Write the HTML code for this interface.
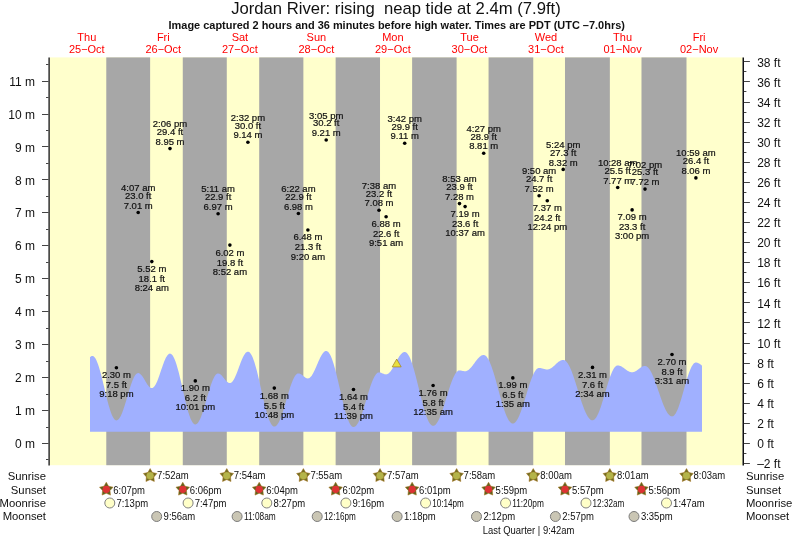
<!DOCTYPE html><html><head><meta charset="utf-8"><title>Jordan River tide chart</title><style>
html,body{margin:0;padding:0;background:#fff;width:793px;height:539px;overflow:hidden}
svg{display:block;will-change:transform}
text{font-family:"Liberation Sans",Arial,Helvetica,sans-serif;fill:#111}
.t{font-size:9.5px;stroke:#111;stroke-width:0.2px}.ax{font-size:12px}.dl{font-size:11px;fill:#f00}.rl{font-size:11.3px}.tm{font-size:10px}
</style></head><body>
<svg width="793" height="539" viewBox="0 0 793 539">
<rect x="49.6" y="57.4" width="692.8" height="407.8" fill="#ffffcc"/>
<rect x="106.28" y="57.4" width="43.85" height="407.8" fill="#a7a7a7"/>
<rect x="182.77" y="57.4" width="44.01" height="407.8" fill="#a7a7a7"/>
<rect x="259.20" y="57.4" width="44.17" height="407.8" fill="#a7a7a7"/>
<rect x="335.63" y="57.4" width="44.38" height="407.8" fill="#a7a7a7"/>
<rect x="412.12" y="57.4" width="44.49" height="407.8" fill="#a7a7a7"/>
<rect x="488.56" y="57.4" width="44.70" height="407.8" fill="#a7a7a7"/>
<rect x="564.99" y="57.4" width="44.86" height="407.8" fill="#a7a7a7"/>
<rect x="641.48" y="57.4" width="45.02" height="407.8" fill="#a7a7a7"/>
<path d="M90.0,431.8 L90.00,357.34 L90.50,356.80 L91.00,356.39 L91.50,356.11 L92.00,355.96 L92.50,355.93 L93.00,356.04 L93.50,356.28 L94.00,356.67 L94.50,357.18 L95.00,357.83 L95.50,358.61 L96.00,359.51 L96.50,360.53 L97.00,361.67 L97.50,362.93 L98.00,364.29 L98.50,365.75 L99.00,367.31 L99.50,368.96 L100.00,370.69 L100.50,372.49 L101.00,374.36 L101.50,376.29 L102.00,378.27 L102.50,380.29 L103.00,382.34 L103.50,384.42 L104.00,386.52 L104.50,388.62 L105.00,390.72 L105.50,392.81 L106.00,394.88 L106.50,396.92 L107.00,398.93 L107.50,400.88 L108.00,402.79 L108.50,404.63 L109.00,406.40 L109.50,408.10 L110.00,409.71 L110.50,411.22 L111.00,412.64 L111.50,413.96 L112.00,415.16 L112.50,416.25 L113.00,417.23 L113.50,418.07 L114.00,418.79 L114.50,419.38 L115.00,419.84 L115.50,420.16 L116.00,420.35 L116.50,420.40 L117.00,420.32 L117.50,420.12 L118.00,419.79 L118.50,419.35 L119.00,418.79 L119.50,418.11 L120.00,417.32 L120.50,416.43 L121.00,415.43 L121.50,414.33 L122.00,413.14 L122.50,411.87 L123.00,410.52 L123.50,409.09 L124.00,407.60 L124.50,406.06 L125.00,404.47 L125.50,402.83 L126.00,401.17 L126.50,399.48 L127.00,397.77 L127.50,396.06 L128.00,394.36 L128.50,392.67 L129.00,391.00 L129.50,389.36 L130.00,387.75 L130.50,386.20 L131.00,384.70 L131.50,383.26 L132.00,381.89 L132.50,380.60 L133.00,379.40 L133.50,378.28 L134.00,377.26 L134.50,376.35 L135.00,375.54 L135.50,374.84 L136.00,374.25 L136.50,373.78 L137.00,373.43 L137.50,373.21 L138.00,373.10 L138.50,373.12 L139.00,373.23 L139.50,373.44 L140.00,373.75 L140.50,374.15 L141.00,374.63 L141.50,375.19 L142.00,375.82 L142.50,376.51 L143.00,377.26 L143.50,378.05 L144.00,378.87 L144.50,379.72 L145.00,380.58 L145.50,381.44 L146.00,382.29 L146.50,383.11 L147.00,383.90 L147.50,384.65 L148.00,385.34 L148.50,385.97 L149.00,386.53 L149.50,387.01 L150.00,387.41 L150.50,387.71 L151.00,387.93 L151.50,388.04 L152.00,388.05 L152.50,387.95 L153.00,387.71 L153.50,387.35 L154.00,386.86 L154.50,386.26 L155.00,385.54 L155.50,384.71 L156.00,383.78 L156.50,382.75 L157.00,381.63 L157.50,380.43 L158.00,379.16 L158.50,377.83 L159.00,376.45 L159.50,375.02 L160.00,373.56 L160.50,372.08 L161.00,370.60 L161.50,369.11 L162.00,367.64 L162.50,366.19 L163.00,364.78 L163.50,363.41 L164.00,362.09 L164.50,360.85 L165.00,359.67 L165.50,358.58 L166.00,357.58 L166.50,356.68 L167.00,355.89 L167.50,355.21 L168.00,354.64 L168.50,354.20 L169.00,353.87 L169.50,353.68 L170.00,353.61 L170.50,353.68 L171.00,353.88 L171.50,354.22 L172.00,354.70 L172.50,355.30 L173.00,356.04 L173.50,356.90 L174.00,357.89 L174.50,359.00 L175.00,360.23 L175.50,361.56 L176.00,363.00 L176.50,364.55 L177.00,366.19 L177.50,367.91 L178.00,369.72 L178.50,371.60 L179.00,373.55 L179.50,375.56 L180.00,377.63 L180.50,379.73 L181.00,381.87 L181.50,384.04 L182.00,386.23 L182.50,388.43 L183.00,390.63 L183.50,392.83 L184.00,395.01 L184.50,397.17 L185.00,399.29 L185.50,401.38 L186.00,403.42 L186.50,405.40 L187.00,407.32 L187.50,409.17 L188.00,410.94 L188.50,412.63 L189.00,414.22 L189.50,415.72 L190.00,417.11 L190.50,418.40 L191.00,419.57 L191.50,420.62 L192.00,421.55 L192.50,422.36 L193.00,423.03 L193.50,423.58 L194.00,423.99 L194.50,424.26 L195.00,424.40 L195.50,424.40 L196.00,424.29 L196.50,424.05 L197.00,423.69 L197.50,423.22 L198.00,422.63 L198.50,421.93 L199.00,421.12 L199.50,420.21 L200.00,419.20 L200.50,418.09 L201.00,416.89 L201.50,415.60 L202.00,414.24 L202.50,412.81 L203.00,411.31 L203.50,409.75 L204.00,408.14 L204.50,406.49 L205.00,404.80 L205.50,403.08 L206.00,401.35 L206.50,399.60 L207.00,397.85 L207.50,396.11 L208.00,394.38 L208.50,392.67 L209.00,390.99 L209.50,389.35 L210.00,387.75 L210.50,386.21 L211.00,384.73 L211.50,383.31 L212.00,381.97 L212.50,380.71 L213.00,379.53 L213.50,378.45 L214.00,377.46 L214.50,376.57 L215.00,375.79 L215.50,375.12 L216.00,374.56 L216.50,374.12 L217.00,373.80 L217.50,373.59 L218.00,373.50 L218.50,373.52 L219.00,373.63 L219.50,373.82 L220.00,374.09 L220.50,374.44 L221.00,374.85 L221.50,375.33 L222.00,375.85 L222.50,376.42 L223.00,377.03 L223.50,377.65 L224.00,378.29 L224.50,378.92 L225.00,379.55 L225.50,380.15 L226.00,380.72 L226.50,381.24 L227.00,381.71 L227.50,382.12 L228.00,382.46 L228.50,382.73 L229.00,382.91 L229.50,383.02 L230.00,383.04 L230.50,382.94 L231.00,382.73 L231.50,382.41 L232.00,381.97 L232.50,381.42 L233.00,380.76 L233.50,380.01 L234.00,379.15 L234.50,378.21 L235.00,377.19 L235.50,376.09 L236.00,374.93 L236.50,373.71 L237.00,372.44 L237.50,371.14 L238.00,369.80 L238.50,368.45 L239.00,367.09 L239.50,365.73 L240.00,364.38 L240.50,363.06 L241.00,361.77 L241.50,360.52 L242.00,359.32 L242.50,358.19 L243.00,357.12 L243.50,356.13 L244.00,355.22 L244.50,354.41 L245.00,353.70 L245.50,353.08 L246.00,352.58 L246.50,352.19 L247.00,351.91 L247.50,351.75 L248.00,351.71 L248.50,351.79 L249.00,352.01 L249.50,352.36 L250.00,352.84 L250.50,353.45 L251.00,354.18 L251.50,355.04 L252.00,356.02 L252.50,357.12 L253.00,358.33 L253.50,359.65 L254.00,361.08 L254.50,362.61 L255.00,364.23 L255.50,365.94 L256.00,367.73 L256.50,369.59 L257.00,371.53 L257.50,373.53 L258.00,375.59 L258.50,377.69 L259.00,379.83 L259.50,382.01 L260.00,384.21 L260.50,386.43 L261.00,388.66 L261.50,390.89 L262.00,393.12 L262.50,395.33 L263.00,397.52 L263.50,399.68 L264.00,401.80 L264.50,403.88 L265.00,405.90 L265.50,407.87 L266.00,409.77 L266.50,411.59 L267.00,413.34 L267.50,415.00 L268.00,416.57 L268.50,418.04 L269.00,419.41 L269.50,420.68 L270.00,421.83 L270.50,422.86 L271.00,423.78 L271.50,424.57 L272.00,425.23 L272.50,425.77 L273.00,426.18 L273.50,426.46 L274.00,426.60 L274.50,426.62 L275.00,426.52 L275.50,426.30 L276.00,425.97 L276.50,425.54 L277.00,424.99 L277.50,424.34 L278.00,423.59 L278.50,422.74 L279.00,421.79 L279.50,420.75 L280.00,419.62 L280.50,418.41 L281.00,417.12 L281.50,415.75 L282.00,414.32 L282.50,412.84 L283.00,411.29 L283.50,409.70 L284.00,408.07 L284.50,406.40 L285.00,404.70 L285.50,402.99 L286.00,401.26 L286.50,399.53 L287.00,397.80 L287.50,396.08 L288.00,394.38 L288.50,392.70 L289.00,391.05 L289.50,389.44 L290.00,387.87 L290.50,386.36 L291.00,384.90 L291.50,383.51 L292.00,382.18 L292.50,380.94 L293.00,379.77 L293.50,378.69 L294.00,377.70 L294.50,376.80 L295.00,376.00 L295.50,375.31 L296.00,374.72 L296.50,374.23 L297.00,373.86 L297.50,373.59 L298.00,373.44 L298.50,373.40 L299.00,373.44 L299.50,373.56 L300.00,373.73 L300.50,373.97 L301.00,374.26 L301.50,374.60 L302.00,374.97 L302.50,375.37 L303.00,375.78 L303.50,376.19 L304.00,376.60 L304.50,376.99 L305.00,377.35 L305.50,377.67 L306.00,377.94 L306.50,378.16 L307.00,378.31 L307.50,378.40 L308.00,378.42 L308.50,378.35 L309.00,378.17 L309.50,377.90 L310.00,377.53 L310.50,377.07 L311.00,376.52 L311.50,375.88 L312.00,375.16 L312.50,374.36 L313.00,373.49 L313.50,372.56 L314.00,371.57 L314.50,370.53 L315.00,369.44 L315.50,368.33 L316.00,367.18 L316.50,366.02 L317.00,364.85 L317.50,363.67 L318.00,362.51 L318.50,361.36 L319.00,360.23 L319.50,359.14 L320.00,358.09 L320.50,357.09 L321.00,356.14 L321.50,355.26 L322.00,354.44 L322.50,353.70 L323.00,353.04 L323.50,352.47 L324.00,351.99 L324.50,351.60 L325.00,351.30 L325.50,351.11 L326.00,351.01 L326.50,351.02 L327.00,351.15 L327.50,351.41 L328.00,351.79 L328.50,352.29 L329.00,352.92 L329.50,353.66 L330.00,354.53 L330.50,355.50 L331.00,356.59 L331.50,357.78 L332.00,359.08 L332.50,360.47 L333.00,361.96 L333.50,363.54 L334.00,365.21 L334.50,366.95 L335.00,368.76 L335.50,370.64 L336.00,372.59 L336.50,374.58 L337.00,376.63 L337.50,378.71 L338.00,380.83 L338.50,382.98 L339.00,385.15 L339.50,387.33 L340.00,389.51 L340.50,391.69 L341.00,393.87 L341.50,396.03 L342.00,398.16 L342.50,400.27 L343.00,402.34 L343.50,404.36 L344.00,406.33 L344.50,408.25 L345.00,410.10 L345.50,411.88 L346.00,413.59 L346.50,415.22 L347.00,416.76 L347.50,418.20 L348.00,419.56 L348.50,420.81 L349.00,421.95 L349.50,422.99 L350.00,423.91 L350.50,424.72 L351.00,425.41 L351.50,425.98 L352.00,426.43 L352.50,426.75 L353.00,426.95 L353.50,427.03 L354.00,426.99 L354.50,426.84 L355.00,426.59 L355.50,426.24 L356.00,425.79 L356.50,425.24 L357.00,424.59 L357.50,423.84 L358.00,423.01 L358.50,422.08 L359.00,421.08 L359.50,419.98 L360.00,418.82 L360.50,417.58 L361.00,416.27 L361.50,414.90 L362.00,413.47 L362.50,411.99 L363.00,410.46 L363.50,408.89 L364.00,407.29 L364.50,405.65 L365.00,404.00 L365.50,402.33 L366.00,400.65 L366.50,398.96 L367.00,397.28 L367.50,395.61 L368.00,393.95 L368.50,392.31 L369.00,390.71 L369.50,389.13 L370.00,387.60 L370.50,386.11 L371.00,384.68 L371.50,383.30 L372.00,381.99 L372.50,380.74 L373.00,379.56 L373.50,378.46 L374.00,377.45 L374.50,376.51 L375.00,375.67 L375.50,374.91 L376.00,374.25 L376.50,373.69 L377.00,373.23 L377.50,372.87 L378.00,372.61 L378.50,372.45 L379.00,372.39 L379.50,372.42 L380.00,372.49 L380.50,372.61 L381.00,372.76 L381.50,372.95 L382.00,373.16 L382.50,373.38 L383.00,373.60 L383.50,373.81 L384.00,374.00 L384.50,374.17 L385.00,374.29 L385.50,374.37 L386.00,374.40 L386.50,374.37 L387.00,374.27 L387.50,374.08 L388.00,373.82 L388.50,373.48 L389.00,373.07 L389.50,372.59 L390.00,372.05 L390.50,371.44 L391.00,370.77 L391.50,370.05 L392.00,369.28 L392.50,368.47 L393.00,367.62 L393.50,366.74 L394.00,365.83 L394.50,364.91 L395.00,363.97 L395.50,363.03 L396.00,362.09 L396.50,361.15 L397.00,360.23 L397.50,359.34 L398.00,358.47 L398.50,357.63 L399.00,356.83 L399.50,356.08 L400.00,355.38 L400.50,354.73 L401.00,354.15 L401.50,353.63 L402.00,353.17 L402.50,352.79 L403.00,352.48 L403.50,352.25 L404.00,352.09 L404.50,352.02 L405.00,352.02 L405.50,352.14 L406.00,352.37 L406.50,352.71 L407.00,353.17 L407.50,353.73 L408.00,354.40 L408.50,355.18 L409.00,356.06 L409.50,357.04 L410.00,358.12 L410.50,359.30 L411.00,360.56 L411.50,361.92 L412.00,363.35 L412.50,364.87 L413.00,366.46 L413.50,368.12 L414.00,369.84 L414.50,371.62 L415.00,373.45 L415.50,375.33 L416.00,377.25 L416.50,379.21 L417.00,381.20 L417.50,383.21 L418.00,385.24 L418.50,387.28 L419.00,389.33 L419.50,391.37 L420.00,393.41 L420.50,395.43 L421.00,397.44 L421.50,399.41 L422.00,401.36 L422.50,403.27 L423.00,405.13 L423.50,406.94 L424.00,408.70 L424.50,410.39 L425.00,412.02 L425.50,413.58 L426.00,415.07 L426.50,416.47 L427.00,417.79 L427.50,419.02 L428.00,420.16 L428.50,421.20 L429.00,422.14 L429.50,422.98 L430.00,423.71 L430.50,424.34 L431.00,424.86 L431.50,425.27 L432.00,425.57 L432.50,425.75 L433.00,425.82 L433.50,425.79 L434.00,425.65 L434.50,425.42 L435.00,425.10 L435.50,424.67 L436.00,424.16 L436.50,423.55 L437.00,422.85 L437.50,422.07 L438.00,421.20 L438.50,420.25 L439.00,419.23 L439.50,418.12 L440.00,416.95 L440.50,415.71 L441.00,414.41 L441.50,413.05 L442.00,411.64 L442.50,410.19 L443.00,408.68 L443.50,407.15 L444.00,405.58 L444.50,403.98 L445.00,402.36 L445.50,400.73 L446.00,399.09 L446.50,397.45 L447.00,395.80 L447.50,394.17 L448.00,392.55 L448.50,390.95 L449.00,389.37 L449.50,387.83 L450.00,386.32 L450.50,384.85 L451.00,383.43 L451.50,382.06 L452.00,380.75 L452.50,379.50 L453.00,378.31 L453.50,377.20 L454.00,376.15 L454.50,375.19 L455.00,374.30 L455.50,373.50 L456.00,372.79 L456.50,372.16 L457.00,371.63 L457.50,371.19 L458.00,370.84 L458.50,370.59 L459.00,370.44 L459.50,370.39 L460.00,370.40 L460.50,370.45 L461.00,370.53 L461.50,370.64 L462.00,370.76 L462.50,370.89 L463.00,371.01 L463.50,371.12 L464.00,371.21 L464.50,371.27 L465.00,371.29 L465.50,371.27 L466.00,371.19 L466.50,371.05 L467.00,370.86 L467.50,370.61 L468.00,370.31 L468.50,369.96 L469.00,369.56 L469.50,369.11 L470.00,368.62 L470.50,368.09 L471.00,367.53 L471.50,366.94 L472.00,366.32 L472.50,365.67 L473.00,365.01 L473.50,364.34 L474.00,363.66 L474.50,362.97 L475.00,362.28 L475.50,361.60 L476.00,360.94 L476.50,360.28 L477.00,359.65 L477.50,359.05 L478.00,358.47 L478.50,357.92 L479.00,357.42 L479.50,356.95 L480.00,356.53 L480.50,356.16 L481.00,355.83 L481.50,355.56 L482.00,355.34 L482.50,355.18 L483.00,355.07 L483.50,355.02 L484.00,355.04 L484.50,355.16 L485.00,355.37 L485.50,355.69 L486.00,356.10 L486.50,356.61 L487.00,357.21 L487.50,357.91 L488.00,358.69 L488.50,359.57 L489.00,360.53 L489.50,361.58 L490.00,362.70 L490.50,363.91 L491.00,365.19 L491.50,366.53 L492.00,367.95 L492.50,369.42 L493.00,370.96 L493.50,372.54 L494.00,374.18 L494.50,375.86 L495.00,377.57 L495.50,379.33 L496.00,381.11 L496.50,382.91 L497.00,384.74 L497.50,386.57 L498.00,388.42 L498.50,390.26 L499.00,392.11 L499.50,393.94 L500.00,395.76 L500.50,397.57 L501.00,399.35 L501.50,401.10 L502.00,402.81 L502.50,404.49 L503.00,406.12 L503.50,407.70 L504.00,409.23 L504.50,410.70 L505.00,412.11 L505.50,413.45 L506.00,414.72 L506.50,415.92 L507.00,417.04 L507.50,418.08 L508.00,419.04 L508.50,419.91 L509.00,420.69 L509.50,421.37 L510.00,421.97 L510.50,422.47 L511.00,422.87 L511.50,423.18 L512.00,423.39 L512.50,423.50 L513.00,423.51 L513.50,423.42 L514.00,423.23 L514.50,422.94 L515.00,422.56 L515.50,422.08 L516.00,421.50 L516.50,420.84 L517.00,420.09 L517.50,419.24 L518.00,418.32 L518.50,417.32 L519.00,416.23 L519.50,415.08 L520.00,413.85 L520.50,412.57 L521.00,411.22 L521.50,409.81 L522.00,408.36 L522.50,406.86 L523.00,405.32 L523.50,403.75 L524.00,402.15 L524.50,400.53 L525.00,398.89 L525.50,397.24 L526.00,395.58 L526.50,393.92 L527.00,392.27 L527.50,390.63 L528.00,389.01 L528.50,387.42 L529.00,385.85 L529.50,384.32 L530.00,382.83 L530.50,381.39 L531.00,380.00 L531.50,378.66 L532.00,377.38 L532.50,376.17 L533.00,375.03 L533.50,373.97 L534.00,372.98 L534.50,372.07 L535.00,371.25 L535.50,370.51 L536.00,369.86 L536.50,369.31 L537.00,368.85 L537.50,368.48 L538.00,368.22 L538.50,368.05 L539.00,367.98 L539.50,367.98 L540.00,368.02 L540.50,368.08 L541.00,368.17 L541.50,368.27 L542.00,368.39 L542.50,368.53 L543.00,368.67 L543.50,368.82 L544.00,368.96 L544.50,369.09 L545.00,369.21 L545.50,369.31 L546.00,369.39 L546.50,369.45 L547.00,369.48 L547.50,369.48 L548.00,369.44 L548.50,369.35 L549.00,369.21 L549.50,369.04 L550.00,368.82 L550.50,368.56 L551.00,368.26 L551.50,367.93 L552.00,367.57 L552.50,367.18 L553.00,366.77 L553.50,366.34 L554.00,365.89 L554.50,365.43 L555.00,364.96 L555.50,364.49 L556.00,364.02 L556.50,363.56 L557.00,363.11 L557.50,362.68 L558.00,362.26 L558.50,361.87 L559.00,361.51 L559.50,361.18 L560.00,360.88 L560.50,360.62 L561.00,360.40 L561.50,360.22 L562.00,360.08 L562.50,359.99 L563.00,359.95 L563.50,359.95 L564.00,360.04 L564.50,360.22 L565.00,360.48 L565.50,360.83 L566.00,361.26 L566.50,361.78 L567.00,362.38 L567.50,363.05 L568.00,363.81 L568.50,364.64 L569.00,365.55 L569.50,366.52 L570.00,367.57 L570.50,368.68 L571.00,369.85 L571.50,371.08 L572.00,372.36 L572.50,373.70 L573.00,375.08 L573.50,376.51 L574.00,377.98 L574.50,379.48 L575.00,381.01 L575.50,382.57 L576.00,384.15 L576.50,385.74 L577.00,387.35 L577.50,388.97 L578.00,390.59 L578.50,392.21 L579.00,393.83 L579.50,395.43 L580.00,397.02 L580.50,398.59 L581.00,400.13 L581.50,401.64 L582.00,403.13 L582.50,404.57 L583.00,405.97 L583.50,407.33 L584.00,408.64 L584.50,409.89 L585.00,411.08 L585.50,412.22 L586.00,413.29 L586.50,414.30 L587.00,415.23 L587.50,416.10 L588.00,416.88 L588.50,417.59 L589.00,418.22 L589.50,418.77 L590.00,419.24 L590.50,419.63 L591.00,419.92 L591.50,420.14 L592.00,420.26 L592.50,420.30 L593.00,420.24 L593.50,420.08 L594.00,419.80 L594.50,419.43 L595.00,418.95 L595.50,418.37 L596.00,417.69 L596.50,416.91 L597.00,416.04 L597.50,415.08 L598.00,414.04 L598.50,412.91 L599.00,411.71 L599.50,410.43 L600.00,409.08 L600.50,407.67 L601.00,406.20 L601.50,404.68 L602.00,403.12 L602.50,401.51 L603.00,399.88 L603.50,398.21 L604.00,396.52 L604.50,394.82 L605.00,393.12 L605.50,391.41 L606.00,389.71 L606.50,388.01 L607.00,386.34 L607.50,384.70 L608.00,383.08 L608.50,381.51 L609.00,379.97 L609.50,378.49 L610.00,377.07 L610.50,375.70 L611.00,374.40 L611.50,373.18 L612.00,372.03 L612.50,370.96 L613.00,369.98 L613.50,369.08 L614.00,368.28 L614.50,367.57 L615.00,366.97 L615.50,366.46 L616.00,366.05 L616.50,365.75 L617.00,365.56 L617.50,365.47 L618.00,365.47 L618.50,365.52 L619.00,365.61 L619.50,365.73 L620.00,365.89 L620.50,366.09 L621.00,366.32 L621.50,366.58 L622.00,366.87 L622.50,367.18 L623.00,367.51 L623.50,367.86 L624.00,368.22 L624.50,368.59 L625.00,368.96 L625.50,369.33 L626.00,369.69 L626.50,370.05 L627.00,370.39 L627.50,370.71 L628.00,371.01 L628.50,371.29 L629.00,371.54 L629.50,371.75 L630.00,371.94 L630.50,372.08 L631.00,372.19 L631.50,372.26 L632.00,372.29 L632.50,372.28 L633.00,372.22 L633.50,372.12 L634.00,371.97 L634.50,371.78 L635.00,371.54 L635.50,371.28 L636.00,370.98 L636.50,370.65 L637.00,370.30 L637.50,369.94 L638.00,369.56 L638.50,369.17 L639.00,368.79 L639.50,368.41 L640.00,368.04 L640.50,367.68 L641.00,367.35 L641.50,367.05 L642.00,366.77 L642.50,366.53 L643.00,366.33 L643.50,366.17 L644.00,366.06 L644.50,365.99 L645.00,365.97 L645.50,366.01 L646.00,366.14 L646.50,366.35 L647.00,366.65 L647.50,367.03 L648.00,367.49 L648.50,368.04 L649.00,368.65 L649.50,369.35 L650.00,370.12 L650.50,370.96 L651.00,371.87 L651.50,372.84 L652.00,373.87 L652.50,374.97 L653.00,376.11 L653.50,377.31 L654.00,378.56 L654.50,379.85 L655.00,381.17 L655.50,382.53 L656.00,383.92 L656.50,385.33 L657.00,386.77 L657.50,388.21 L658.00,389.67 L658.50,391.13 L659.00,392.60 L659.50,394.05 L660.00,395.50 L660.50,396.94 L661.00,398.35 L661.50,399.74 L662.00,401.10 L662.50,402.43 L663.00,403.72 L663.50,404.97 L664.00,406.17 L664.50,407.32 L665.00,408.42 L665.50,409.45 L666.00,410.43 L666.50,411.34 L667.00,412.19 L667.50,412.96 L668.00,413.66 L668.50,414.28 L669.00,414.83 L669.50,415.29 L670.00,415.68 L670.50,415.98 L671.00,416.20 L671.50,416.33 L672.00,416.38 L672.50,416.33 L673.00,416.17 L673.50,415.89 L674.00,415.49 L674.50,414.98 L675.00,414.36 L675.50,413.63 L676.00,412.80 L676.50,411.86 L677.00,410.83 L677.50,409.70 L678.00,408.49 L678.50,407.19 L679.00,405.82 L679.50,404.37 L680.00,402.86 L680.50,401.29 L681.00,399.67 L681.50,398.01 L682.00,396.31 L682.50,394.58 L683.00,392.83 L683.50,391.06 L684.00,389.28 L684.50,387.51 L685.00,385.74 L685.50,384.00 L686.00,382.27 L686.50,380.58 L687.00,378.92 L687.50,377.31 L688.00,375.76 L688.50,374.26 L689.00,372.83 L689.50,371.47 L690.00,370.19 L690.50,368.99 L691.00,367.89 L691.50,366.87 L692.00,365.96 L692.50,365.15 L693.00,364.44 L693.50,363.84 L694.00,363.35 L694.50,362.98 L695.00,362.72 L695.50,362.58 L696.00,362.55 L696.50,362.59 L697.00,362.67 L697.50,362.80 L698.00,362.97 L698.50,363.18 L699.00,363.44 L699.50,363.73 L700.00,364.07 L700.50,364.43 L701.00,364.84 L701.50,365.27 L702.00,365.73 L702.0,431.8 Z" fill="#a0b0ff"/>
<g stroke="#111" stroke-width="1.4" fill="none">
<line x1="49.1" y1="57.4" x2="49.1" y2="465.4" stroke-width="1.3"/>
<line x1="743.25" y1="57.4" x2="743.25" y2="465.4" stroke-width="1.5"/>
</g>
<path d="M46.0,459.50H48.6 M42.0,443.50H48.6 M46.0,427.50H48.6 M42.0,410.50H48.6 M46.0,394.50H48.6 M42.0,377.50H48.6 M46.0,361.50H48.6 M42.0,344.50H48.6 M46.0,328.50H48.6 M42.0,311.50H48.6 M46.0,295.50H48.6 M42.0,278.50H48.6 M46.0,262.50H48.6 M42.0,245.50H48.6 M46.0,229.50H48.6 M42.0,212.50H48.6 M46.0,196.50H48.6 M42.0,179.50H48.6 M46.0,163.50H48.6 M42.0,146.50H48.6 M46.0,130.50H48.6 M42.0,114.50H48.6 M46.0,97.50H48.6 M42.0,81.50H48.6 M46.0,64.50H48.6 M743.8,463.50H749.9 M743.8,453.50H746.4 M743.8,443.50H749.9 M743.8,433.50H746.4 M743.8,423.50H749.9 M743.8,413.50H746.4 M743.8,403.50H749.9 M743.8,393.50H746.4 M743.8,383.50H749.9 M743.8,373.50H746.4 M743.8,363.50H749.9 M743.8,353.50H746.4 M743.8,343.50H749.9 M743.8,333.50H746.4 M743.8,322.50H749.9 M743.8,312.50H746.4 M743.8,302.50H749.9 M743.8,292.50H746.4 M743.8,282.50H749.9 M743.8,272.50H746.4 M743.8,262.50H749.9 M743.8,252.50H746.4 M743.8,242.50H749.9 M743.8,232.50H746.4 M743.8,222.50H749.9 M743.8,212.50H746.4 M743.8,202.50H749.9 M743.8,192.50H746.4 M743.8,182.50H749.9 M743.8,172.50H746.4 M743.8,162.50H749.9 M743.8,152.50H746.4 M743.8,142.50H749.9 M743.8,132.50H746.4 M743.8,122.50H749.9 M743.8,112.50H746.4 M743.8,102.50H749.9 M743.8,91.50H746.4 M743.8,81.50H749.9 M743.8,71.50H746.4 M743.8,61.50H749.9" stroke="#444" stroke-width="1" fill="none"/>
<text class="ax" x="35" y="448.1" text-anchor="end">0 m</text>
<text class="ax" x="35" y="415.2" text-anchor="end">1 m</text>
<text class="ax" x="35" y="382.2" text-anchor="end">2 m</text>
<text class="ax" x="35" y="349.2" text-anchor="end">3 m</text>
<text class="ax" x="35" y="316.3" text-anchor="end">4 m</text>
<text class="ax" x="35" y="283.4" text-anchor="end">5 m</text>
<text class="ax" x="35" y="250.4" text-anchor="end">6 m</text>
<text class="ax" x="35" y="217.4" text-anchor="end">7 m</text>
<text class="ax" x="35" y="184.5" text-anchor="end">8 m</text>
<text class="ax" x="35" y="151.5" text-anchor="end">9 m</text>
<text class="ax" x="35" y="118.6" text-anchor="end">10 m</text>
<text class="ax" x="35" y="85.6" text-anchor="end">11 m</text>
<text class="ax" x="757.2" y="468.2">–2 ft</text>
<text class="ax" x="757.2" y="448.1">0 ft</text>
<text class="ax" x="757.2" y="428.0">2 ft</text>
<text class="ax" x="757.2" y="407.9">4 ft</text>
<text class="ax" x="757.2" y="387.8">6 ft</text>
<text class="ax" x="757.2" y="367.8">8 ft</text>
<text class="ax" x="757.2" y="347.7">10 ft</text>
<text class="ax" x="757.2" y="327.6">12 ft</text>
<text class="ax" x="757.2" y="307.5">14 ft</text>
<text class="ax" x="757.2" y="287.4">16 ft</text>
<text class="ax" x="757.2" y="267.3">18 ft</text>
<text class="ax" x="757.2" y="247.2">20 ft</text>
<text class="ax" x="757.2" y="227.2">22 ft</text>
<text class="ax" x="757.2" y="207.1">24 ft</text>
<text class="ax" x="757.2" y="187.0">26 ft</text>
<text class="ax" x="757.2" y="166.9">28 ft</text>
<text class="ax" x="757.2" y="146.8">30 ft</text>
<text class="ax" x="757.2" y="126.7">32 ft</text>
<text class="ax" x="757.2" y="106.6">34 ft</text>
<text class="ax" x="757.2" y="86.5">36 ft</text>
<text class="ax" x="757.2" y="66.5">38 ft</text>
<text x="396" y="14.4" text-anchor="middle" style="font-size:17px" textLength="329.6" lengthAdjust="spacingAndGlyphs" xml:space="preserve">Jordan River: rising  neap tide at 2.4m (7.9ft)</text>
<text x="396.7" y="28.8" text-anchor="middle" style="font-size:11px;font-weight:bold;fill:#111" textLength="456.4" lengthAdjust="spacingAndGlyphs">Image captured 2 hours and 36 minutes before high water. Times are PDT (UTC –7.0hrs)</text>
<text class="dl" x="86.8" y="41.1" text-anchor="middle">Thu</text>
<text class="dl" x="86.8" y="52.8" text-anchor="middle">25−Oct</text>
<text class="dl" x="163.3" y="41.1" text-anchor="middle">Fri</text>
<text class="dl" x="163.3" y="52.8" text-anchor="middle">26−Oct</text>
<text class="dl" x="239.9" y="41.1" text-anchor="middle">Sat</text>
<text class="dl" x="239.9" y="52.8" text-anchor="middle">27−Oct</text>
<text class="dl" x="316.4" y="41.1" text-anchor="middle">Sun</text>
<text class="dl" x="316.4" y="52.8" text-anchor="middle">28−Oct</text>
<text class="dl" x="392.9" y="41.1" text-anchor="middle">Mon</text>
<text class="dl" x="392.9" y="52.8" text-anchor="middle">29−Oct</text>
<text class="dl" x="469.5" y="41.1" text-anchor="middle">Tue</text>
<text class="dl" x="469.5" y="52.8" text-anchor="middle">30−Oct</text>
<text class="dl" x="546.0" y="41.1" text-anchor="middle">Wed</text>
<text class="dl" x="546.0" y="52.8" text-anchor="middle">31−Oct</text>
<text class="dl" x="622.6" y="41.1" text-anchor="middle">Thu</text>
<text class="dl" x="622.6" y="52.8" text-anchor="middle">01−Nov</text>
<text class="dl" x="699.1" y="41.1" text-anchor="middle">Fri</text>
<text class="dl" x="699.1" y="52.8" text-anchor="middle">02−Nov</text>
<circle cx="116.4" cy="367.7" r="1.8" fill="#000"/>
<text class="t" x="116.4" y="378.1" text-anchor="middle">2.30 m</text>
<text class="t" x="116.4" y="388.1" text-anchor="middle">7.5 ft</text>
<text class="t" x="116.4" y="397.2" text-anchor="middle">9:18 pm</text>
<circle cx="138.2" cy="212.5" r="1.8" fill="#000"/>
<text class="t" x="138.2" y="191.0" text-anchor="middle">4:07 am</text>
<text class="t" x="138.2" y="198.8" text-anchor="middle">23.0 ft</text>
<text class="t" x="138.2" y="208.6" text-anchor="middle">7.01 m</text>
<circle cx="151.8" cy="261.6" r="1.8" fill="#000"/>
<text class="t" x="151.8" y="272.0" text-anchor="middle">5.52 m</text>
<text class="t" x="151.8" y="282.0" text-anchor="middle">18.1 ft</text>
<text class="t" x="151.8" y="291.1" text-anchor="middle">8:24 am</text>
<circle cx="170.0" cy="148.6" r="1.8" fill="#000"/>
<text class="t" x="170.0" y="127.1" text-anchor="middle">2:06 pm</text>
<text class="t" x="170.0" y="134.9" text-anchor="middle">29.4 ft</text>
<text class="t" x="170.0" y="144.7" text-anchor="middle">8.95 m</text>
<circle cx="195.3" cy="380.9" r="1.8" fill="#000"/>
<text class="t" x="195.3" y="391.3" text-anchor="middle">1.90 m</text>
<text class="t" x="195.3" y="401.3" text-anchor="middle">6.2 ft</text>
<text class="t" x="195.3" y="410.4" text-anchor="middle">10:01 pm</text>
<circle cx="218.1" cy="213.8" r="1.8" fill="#000"/>
<text class="t" x="218.1" y="192.3" text-anchor="middle">5:11 am</text>
<text class="t" x="218.1" y="200.1" text-anchor="middle">22.9 ft</text>
<text class="t" x="218.1" y="209.9" text-anchor="middle">6.97 m</text>
<circle cx="229.9" cy="245.1" r="1.8" fill="#000"/>
<text class="t" x="229.9" y="255.5" text-anchor="middle">6.02 m</text>
<text class="t" x="229.9" y="265.5" text-anchor="middle">19.8 ft</text>
<text class="t" x="229.9" y="274.6" text-anchor="middle">8:52 am</text>
<circle cx="247.9" cy="142.3" r="1.8" fill="#000"/>
<text class="t" x="247.9" y="120.8" text-anchor="middle">2:32 pm</text>
<text class="t" x="247.9" y="128.6" text-anchor="middle">30.0 ft</text>
<text class="t" x="247.9" y="138.4" text-anchor="middle">9.14 m</text>
<circle cx="274.3" cy="388.1" r="1.8" fill="#000"/>
<text class="t" x="274.3" y="398.5" text-anchor="middle">1.68 m</text>
<text class="t" x="274.3" y="408.5" text-anchor="middle">5.5 ft</text>
<text class="t" x="274.3" y="417.6" text-anchor="middle">10:48 pm</text>
<circle cx="298.4" cy="213.5" r="1.8" fill="#000"/>
<text class="t" x="298.4" y="192.0" text-anchor="middle">6:22 am</text>
<text class="t" x="298.4" y="199.8" text-anchor="middle">22.9 ft</text>
<text class="t" x="298.4" y="209.6" text-anchor="middle">6.98 m</text>
<circle cx="307.9" cy="230.0" r="1.8" fill="#000"/>
<text class="t" x="307.9" y="240.4" text-anchor="middle">6.48 m</text>
<text class="t" x="307.9" y="250.4" text-anchor="middle">21.3 ft</text>
<text class="t" x="307.9" y="259.5" text-anchor="middle">9:20 am</text>
<circle cx="326.2" cy="140.0" r="1.8" fill="#000"/>
<text class="t" x="326.2" y="118.5" text-anchor="middle">3:05 pm</text>
<text class="t" x="326.2" y="126.3" text-anchor="middle">30.2 ft</text>
<text class="t" x="326.2" y="136.1" text-anchor="middle">9.21 m</text>
<circle cx="353.5" cy="389.5" r="1.8" fill="#000"/>
<text class="t" x="353.5" y="399.9" text-anchor="middle">1.64 m</text>
<text class="t" x="353.5" y="409.9" text-anchor="middle">5.4 ft</text>
<text class="t" x="353.5" y="419.0" text-anchor="middle">11:39 pm</text>
<circle cx="379.0" cy="210.2" r="1.8" fill="#000"/>
<text class="t" x="379.0" y="188.7" text-anchor="middle">7:38 am</text>
<text class="t" x="379.0" y="196.5" text-anchor="middle">23.2 ft</text>
<text class="t" x="379.0" y="206.3" text-anchor="middle">7.08 m</text>
<circle cx="386.1" cy="216.8" r="1.8" fill="#000"/>
<text class="t" x="386.1" y="227.2" text-anchor="middle">6.88 m</text>
<text class="t" x="386.1" y="237.2" text-anchor="middle">22.6 ft</text>
<text class="t" x="386.1" y="246.3" text-anchor="middle">9:51 am</text>
<circle cx="404.7" cy="143.3" r="1.8" fill="#000"/>
<text class="t" x="404.7" y="121.8" text-anchor="middle">3:42 pm</text>
<text class="t" x="404.7" y="129.6" text-anchor="middle">29.9 ft</text>
<text class="t" x="404.7" y="139.4" text-anchor="middle">9.11 m</text>
<circle cx="433.1" cy="385.5" r="1.8" fill="#000"/>
<text class="t" x="433.1" y="395.9" text-anchor="middle">1.76 m</text>
<text class="t" x="433.1" y="405.9" text-anchor="middle">5.8 ft</text>
<text class="t" x="433.1" y="415.0" text-anchor="middle">12:35 am</text>
<circle cx="459.5" cy="203.6" r="1.8" fill="#000"/>
<text class="t" x="459.5" y="182.1" text-anchor="middle">8:53 am</text>
<text class="t" x="459.5" y="189.9" text-anchor="middle">23.9 ft</text>
<text class="t" x="459.5" y="199.7" text-anchor="middle">7.28 m</text>
<circle cx="465.1" cy="206.6" r="1.8" fill="#000"/>
<text class="t" x="465.1" y="217.0" text-anchor="middle">7.19 m</text>
<text class="t" x="465.1" y="227.0" text-anchor="middle">23.6 ft</text>
<text class="t" x="465.1" y="236.1" text-anchor="middle">10:37 am</text>
<circle cx="483.7" cy="153.2" r="1.8" fill="#000"/>
<text class="t" x="483.7" y="131.7" text-anchor="middle">4:27 pm</text>
<text class="t" x="483.7" y="139.5" text-anchor="middle">28.9 ft</text>
<text class="t" x="483.7" y="149.3" text-anchor="middle">8.81 m</text>
<circle cx="512.8" cy="377.9" r="1.8" fill="#000"/>
<text class="t" x="512.8" y="388.3" text-anchor="middle">1.99 m</text>
<text class="t" x="512.8" y="398.3" text-anchor="middle">6.5 ft</text>
<text class="t" x="512.8" y="407.4" text-anchor="middle">1:35 am</text>
<circle cx="539.1" cy="195.7" r="1.8" fill="#000"/>
<text class="t" x="539.1" y="174.2" text-anchor="middle">9:50 am</text>
<text class="t" x="539.1" y="182.0" text-anchor="middle">24.7 ft</text>
<text class="t" x="539.1" y="191.8" text-anchor="middle">7.52 m</text>
<circle cx="547.3" cy="200.7" r="1.8" fill="#000"/>
<text class="t" x="547.3" y="211.1" text-anchor="middle">7.37 m</text>
<text class="t" x="547.3" y="221.1" text-anchor="middle">24.2 ft</text>
<text class="t" x="547.3" y="230.2" text-anchor="middle">12:24 pm</text>
<circle cx="563.2" cy="169.4" r="1.8" fill="#000"/>
<text class="t" x="563.2" y="147.9" text-anchor="middle">5:24 pm</text>
<text class="t" x="563.2" y="155.7" text-anchor="middle">27.3 ft</text>
<text class="t" x="563.2" y="165.5" text-anchor="middle">8.32 m</text>
<circle cx="592.5" cy="367.4" r="1.8" fill="#000"/>
<text class="t" x="592.5" y="377.8" text-anchor="middle">2.31 m</text>
<text class="t" x="592.5" y="387.8" text-anchor="middle">7.6 ft</text>
<text class="t" x="592.5" y="396.9" text-anchor="middle">2:34 am</text>
<circle cx="617.7" cy="187.5" r="1.8" fill="#000"/>
<text class="t" x="617.7" y="166.0" text-anchor="middle">10:28 am</text>
<text class="t" x="617.7" y="173.8" text-anchor="middle">25.5 ft</text>
<text class="t" x="617.7" y="183.6" text-anchor="middle">7.77 m</text>
<circle cx="632.1" cy="209.9" r="1.8" fill="#000"/>
<text class="t" x="632.1" y="220.3" text-anchor="middle">7.09 m</text>
<text class="t" x="632.1" y="230.3" text-anchor="middle">23.3 ft</text>
<text class="t" x="632.1" y="239.4" text-anchor="middle">3:00 pm</text>
<circle cx="645.0" cy="189.1" r="1.8" fill="#000"/>
<text class="t" x="645.0" y="167.6" text-anchor="middle">7:02 pm</text>
<text class="t" x="645.0" y="175.4" text-anchor="middle">25.3 ft</text>
<text class="t" x="645.0" y="185.2" text-anchor="middle">7.72 m</text>
<circle cx="672.0" cy="354.5" r="1.8" fill="#000"/>
<text class="t" x="672.0" y="364.9" text-anchor="middle">2.70 m</text>
<text class="t" x="672.0" y="374.9" text-anchor="middle">8.9 ft</text>
<text class="t" x="672.0" y="384.0" text-anchor="middle">3:31 am</text>
<circle cx="695.9" cy="177.9" r="1.8" fill="#000"/>
<text class="t" x="695.9" y="156.4" text-anchor="middle">10:59 am</text>
<text class="t" x="695.9" y="164.2" text-anchor="middle">26.4 ft</text>
<text class="t" x="695.9" y="174.0" text-anchor="middle">8.06 m</text>
<path d="M396.7,359.1 L401.2,366.9 L392.2,366.9 Z" fill="#e8e040" stroke="#a08020" stroke-width="0.7"/>
<text class="rl" x="46" y="480.1" text-anchor="end">Sunrise</text>
<text class="rl" x="745.9" y="480.1">Sunrise</text>
<text class="rl" x="46" y="493.9" text-anchor="end">Sunset</text>
<text class="rl" x="745.9" y="493.9">Sunset</text>
<text class="rl" x="46" y="506.6" text-anchor="end">Moonrise</text>
<text class="rl" x="745.9" y="506.6">Moonrise</text>
<text class="rl" x="46" y="520.4" text-anchor="end">Moonset</text>
<text class="rl" x="745.9" y="520.4">Moonset</text>
<polygon points="150.13,468.60 152.42,472.54 156.88,473.51 153.84,476.91 154.30,481.44 150.13,479.60 145.96,481.44 146.42,476.91 143.38,473.51 147.84,472.54" fill="#6a6e26" stroke="#a87018" stroke-width="0.55" stroke-linejoin="miter"/>
<circle cx="150.13" cy="475.70" r="3.8" fill="#b4b44a" stroke="#a06a18" stroke-width="0.6" stroke-dasharray="1 0.8"/>
<text class="tm" x="157.1" y="479.2" textLength="31.7" lengthAdjust="spacingAndGlyphs">7:52am</text>
<polygon points="226.78,468.60 229.07,472.54 233.53,473.51 230.49,476.91 230.95,481.44 226.78,479.60 222.60,481.44 223.07,476.91 220.02,473.51 224.48,472.54" fill="#6a6e26" stroke="#a87018" stroke-width="0.55" stroke-linejoin="miter"/>
<circle cx="226.78" cy="475.70" r="3.8" fill="#b4b44a" stroke="#a06a18" stroke-width="0.6" stroke-dasharray="1 0.8"/>
<text class="tm" x="233.8" y="479.2" textLength="31.7" lengthAdjust="spacingAndGlyphs">7:54am</text>
<polygon points="303.37,468.60 305.66,472.54 310.12,473.51 307.08,476.91 307.54,481.44 303.37,479.60 299.20,481.44 299.66,476.91 296.62,473.51 301.08,472.54" fill="#6a6e26" stroke="#a87018" stroke-width="0.55" stroke-linejoin="miter"/>
<circle cx="303.37" cy="475.70" r="3.8" fill="#b4b44a" stroke="#a06a18" stroke-width="0.6" stroke-dasharray="1 0.8"/>
<text class="tm" x="310.4" y="479.2" textLength="31.7" lengthAdjust="spacingAndGlyphs">7:55am</text>
<polygon points="380.02,468.60 382.31,472.54 386.77,473.51 383.73,476.91 384.19,481.44 380.02,479.60 375.84,481.44 376.31,476.91 373.26,473.51 377.72,472.54" fill="#6a6e26" stroke="#a87018" stroke-width="0.55" stroke-linejoin="miter"/>
<circle cx="380.02" cy="475.70" r="3.8" fill="#b4b44a" stroke="#a06a18" stroke-width="0.6" stroke-dasharray="1 0.8"/>
<text class="tm" x="387.0" y="479.2" textLength="31.7" lengthAdjust="spacingAndGlyphs">7:57am</text>
<polygon points="456.61,468.60 458.90,472.54 463.36,473.51 460.32,476.91 460.78,481.44 456.61,479.60 452.44,481.44 452.90,476.91 449.86,473.51 454.32,472.54" fill="#6a6e26" stroke="#a87018" stroke-width="0.55" stroke-linejoin="miter"/>
<circle cx="456.61" cy="475.70" r="3.8" fill="#b4b44a" stroke="#a06a18" stroke-width="0.6" stroke-dasharray="1 0.8"/>
<text class="tm" x="463.6" y="479.2" textLength="31.7" lengthAdjust="spacingAndGlyphs">7:58am</text>
<polygon points="533.26,468.60 535.55,472.54 540.01,473.51 536.97,476.91 537.43,481.44 533.26,479.60 529.09,481.44 529.55,476.91 526.51,473.51 530.97,472.54" fill="#6a6e26" stroke="#a87018" stroke-width="0.55" stroke-linejoin="miter"/>
<circle cx="533.26" cy="475.70" r="3.8" fill="#b4b44a" stroke="#a06a18" stroke-width="0.6" stroke-dasharray="1 0.8"/>
<text class="tm" x="540.3" y="479.2" textLength="31.7" lengthAdjust="spacingAndGlyphs">8:00am</text>
<polygon points="609.85,468.60 612.14,472.54 616.60,473.51 613.56,476.91 614.03,481.44 609.85,479.60 605.68,481.44 606.14,476.91 603.10,473.51 607.56,472.54" fill="#6a6e26" stroke="#a87018" stroke-width="0.55" stroke-linejoin="miter"/>
<circle cx="609.85" cy="475.70" r="3.8" fill="#b4b44a" stroke="#a06a18" stroke-width="0.6" stroke-dasharray="1 0.8"/>
<text class="tm" x="616.9" y="479.2" textLength="31.7" lengthAdjust="spacingAndGlyphs">8:01am</text>
<polygon points="686.50,468.60 688.79,472.54 693.25,473.51 690.21,476.91 690.67,481.44 686.50,479.60 682.33,481.44 682.79,476.91 679.75,473.51 684.21,472.54" fill="#6a6e26" stroke="#a87018" stroke-width="0.55" stroke-linejoin="miter"/>
<circle cx="686.50" cy="475.70" r="3.8" fill="#b4b44a" stroke="#a06a18" stroke-width="0.6" stroke-dasharray="1 0.8"/>
<text class="tm" x="693.5" y="479.2" textLength="31.7" lengthAdjust="spacingAndGlyphs">8:03am</text>
<polygon points="106.28,482.25 108.57,486.19 113.03,487.16 109.99,490.56 110.45,495.09 106.28,493.25 102.10,495.09 102.57,490.56 99.53,487.16 103.99,486.19" fill="#5a6420" stroke="#a87018" stroke-width="0.55" stroke-linejoin="miter"/>
<circle cx="106.28" cy="489.35" r="3.7" fill="#dd3333"/>
<text class="tm" x="113.3" y="493.8" textLength="31.7" lengthAdjust="spacingAndGlyphs">6:07pm</text>
<polygon points="182.77,482.25 185.06,486.19 189.52,487.16 186.47,490.56 186.94,495.09 182.77,493.25 178.59,495.09 179.06,490.56 176.01,487.16 180.47,486.19" fill="#5a6420" stroke="#a87018" stroke-width="0.55" stroke-linejoin="miter"/>
<circle cx="182.77" cy="489.35" r="3.7" fill="#dd3333"/>
<text class="tm" x="189.8" y="493.8" textLength="31.7" lengthAdjust="spacingAndGlyphs">6:06pm</text>
<polygon points="259.20,482.25 261.49,486.19 265.95,487.16 262.91,490.56 263.37,495.09 259.20,493.25 255.03,495.09 255.49,490.56 252.45,487.16 256.91,486.19" fill="#5a6420" stroke="#a87018" stroke-width="0.55" stroke-linejoin="miter"/>
<circle cx="259.20" cy="489.35" r="3.7" fill="#dd3333"/>
<text class="tm" x="266.2" y="493.8" textLength="31.7" lengthAdjust="spacingAndGlyphs">6:04pm</text>
<polygon points="335.63,482.25 337.93,486.19 342.39,487.16 339.34,490.56 339.81,495.09 335.63,493.25 331.46,495.09 331.93,490.56 328.88,487.16 333.34,486.19" fill="#5a6420" stroke="#a87018" stroke-width="0.55" stroke-linejoin="miter"/>
<circle cx="335.63" cy="489.35" r="3.7" fill="#dd3333"/>
<text class="tm" x="342.6" y="493.8" textLength="31.7" lengthAdjust="spacingAndGlyphs">6:02pm</text>
<polygon points="412.12,482.25 414.41,486.19 418.87,487.16 415.83,490.56 416.30,495.09 412.12,493.25 407.95,495.09 408.41,490.56 405.37,487.16 409.83,486.19" fill="#5a6420" stroke="#a87018" stroke-width="0.55" stroke-linejoin="miter"/>
<circle cx="412.12" cy="489.35" r="3.7" fill="#dd3333"/>
<text class="tm" x="419.1" y="493.8" textLength="31.7" lengthAdjust="spacingAndGlyphs">6:01pm</text>
<polygon points="488.56,482.25 490.85,486.19 495.31,487.16 492.27,490.56 492.73,495.09 488.56,493.25 484.38,495.09 484.85,490.56 481.80,487.16 486.26,486.19" fill="#5a6420" stroke="#a87018" stroke-width="0.55" stroke-linejoin="miter"/>
<circle cx="488.56" cy="489.35" r="3.7" fill="#dd3333"/>
<text class="tm" x="495.6" y="493.8" textLength="31.7" lengthAdjust="spacingAndGlyphs">5:59pm</text>
<polygon points="564.99,482.25 567.28,486.19 571.74,487.16 568.70,490.56 569.16,495.09 564.99,493.25 560.82,495.09 561.28,490.56 558.24,487.16 562.70,486.19" fill="#5a6420" stroke="#a87018" stroke-width="0.55" stroke-linejoin="miter"/>
<circle cx="564.99" cy="489.35" r="3.7" fill="#dd3333"/>
<text class="tm" x="572.0" y="493.8" textLength="31.7" lengthAdjust="spacingAndGlyphs">5:57pm</text>
<polygon points="641.48,482.25 643.77,486.19 648.23,487.16 645.19,490.56 645.65,495.09 641.48,493.25 637.31,495.09 637.77,490.56 634.73,487.16 639.19,486.19" fill="#5a6420" stroke="#a87018" stroke-width="0.55" stroke-linejoin="miter"/>
<circle cx="641.48" cy="489.35" r="3.7" fill="#dd3333"/>
<text class="tm" x="648.5" y="493.8" textLength="31.7" lengthAdjust="spacingAndGlyphs">5:56pm</text>
<circle cx="109.8" cy="503.0" r="5.0" fill="#ffffc8" stroke="#808080" stroke-width="1"/>
<text class="tm" x="116.4" y="507.3" textLength="31.7" lengthAdjust="spacingAndGlyphs">7:13pm</text>
<circle cx="188.1" cy="503.0" r="5.0" fill="#ffffc8" stroke="#808080" stroke-width="1"/>
<text class="tm" x="194.7" y="507.3" textLength="31.7" lengthAdjust="spacingAndGlyphs">7:47pm</text>
<circle cx="266.8" cy="503.0" r="5.0" fill="#ffffc8" stroke="#808080" stroke-width="1"/>
<text class="tm" x="273.4" y="507.3" textLength="31.7" lengthAdjust="spacingAndGlyphs">8:27pm</text>
<circle cx="345.9" cy="503.0" r="5.0" fill="#ffffc8" stroke="#808080" stroke-width="1"/>
<text class="tm" x="352.5" y="507.3" textLength="31.7" lengthAdjust="spacingAndGlyphs">9:16pm</text>
<circle cx="425.6" cy="503.0" r="5.0" fill="#ffffc8" stroke="#808080" stroke-width="1"/>
<text class="tm" x="432.2" y="507.3" textLength="31.7" lengthAdjust="spacingAndGlyphs">10:14pm</text>
<circle cx="505.6" cy="503.0" r="5.0" fill="#ffffc8" stroke="#808080" stroke-width="1"/>
<text class="tm" x="512.2" y="507.3" textLength="31.7" lengthAdjust="spacingAndGlyphs">11:20pm</text>
<circle cx="586.0" cy="503.0" r="5.0" fill="#ffffc8" stroke="#808080" stroke-width="1"/>
<text class="tm" x="592.6" y="507.3" textLength="31.7" lengthAdjust="spacingAndGlyphs">12:32am</text>
<circle cx="666.5" cy="503.0" r="5.0" fill="#ffffc8" stroke="#808080" stroke-width="1"/>
<text class="tm" x="673.1" y="507.3" textLength="31.7" lengthAdjust="spacingAndGlyphs">1:47am</text>
<circle cx="156.7" cy="516.5" r="5.0" fill="#cac6b4" stroke="#7a7a7a" stroke-width="1"/>
<text class="tm" x="163.6" y="520.0" textLength="31.7" lengthAdjust="spacingAndGlyphs">9:56am</text>
<circle cx="237.1" cy="516.5" r="5.0" fill="#cac6b4" stroke="#7a7a7a" stroke-width="1"/>
<text class="tm" x="244.0" y="520.0" textLength="31.7" lengthAdjust="spacingAndGlyphs">11:08am</text>
<circle cx="317.2" cy="516.5" r="5.0" fill="#cac6b4" stroke="#7a7a7a" stroke-width="1"/>
<text class="tm" x="324.1" y="520.0" textLength="31.7" lengthAdjust="spacingAndGlyphs">12:16pm</text>
<circle cx="397.1" cy="516.5" r="5.0" fill="#cac6b4" stroke="#7a7a7a" stroke-width="1"/>
<text class="tm" x="404.0" y="520.0" textLength="31.7" lengthAdjust="spacingAndGlyphs">1:18pm</text>
<circle cx="476.5" cy="516.5" r="5.0" fill="#cac6b4" stroke="#7a7a7a" stroke-width="1"/>
<text class="tm" x="483.4" y="520.0" textLength="31.7" lengthAdjust="spacingAndGlyphs">2:12pm</text>
<circle cx="555.4" cy="516.5" r="5.0" fill="#cac6b4" stroke="#7a7a7a" stroke-width="1"/>
<text class="tm" x="562.3" y="520.0" textLength="31.7" lengthAdjust="spacingAndGlyphs">2:57pm</text>
<circle cx="634.0" cy="516.5" r="5.0" fill="#cac6b4" stroke="#7a7a7a" stroke-width="1"/>
<text class="tm" x="640.9" y="520.0" textLength="31.7" lengthAdjust="spacingAndGlyphs">3:35pm</text>
<text class="tm" x="482.7" y="534.0" textLength="91.7" lengthAdjust="spacingAndGlyphs" xml:space="preserve">Last Quarter | 9:42am</text>
</svg></body></html>
